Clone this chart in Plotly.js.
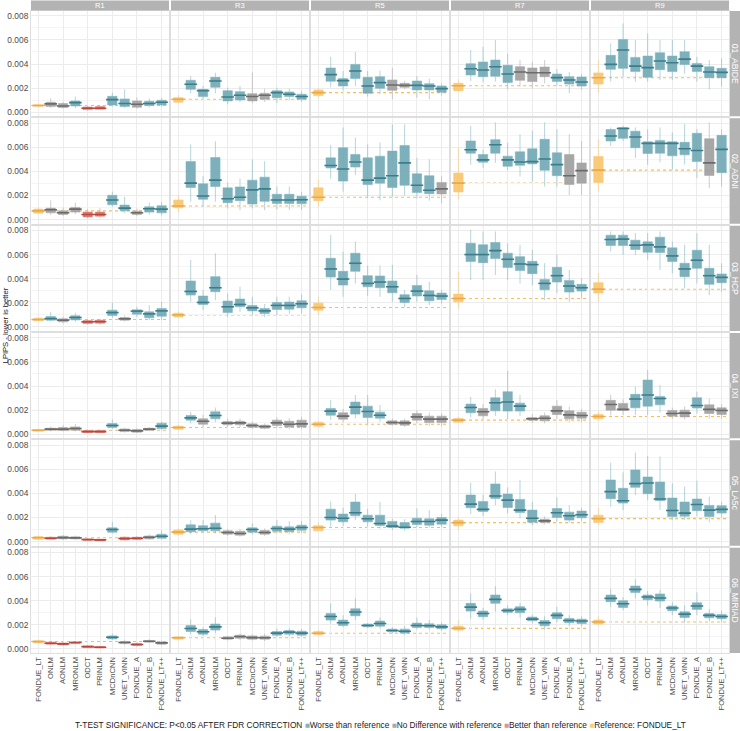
<!DOCTYPE html>
<html>
<head>
<meta charset="utf-8">
<script src="https://cdn.plot.ly/plotly-3.0.1.min.js"></script>
<style>
  html, body { margin: 0; padding: 0; background: #fff; }
  #chart { width: 740px; height: 731px; }
</style>
</head>
<body>
<div id="chart"></div>
<script>
// Methods compared in every panel (x axis), regions (columns) and datasets (rows)
const METHODS = ['FONDUE_LT','ONLM','AONLM','MRONLM','ODCT','PRINLM','MCDnCNN','UNET_VINN','FONDUE_A','FONDUE_B','FONDUE_LT++'];
const REGIONS = ['R1','R3','R5','R7','R9'];
const DATASETS = ['01_ABIDE','02_ADNI','03_HCP','04_IXI','05_LA5c','06_MIRIAD'];

// Box summaries per method: [lower whisker, q1, median, q3, upper whisker], LPIPS in units of 1e-3
// Significance per method: R = reference, W = worse, N = no difference, B = better
const ABIDE_R1 = [[0.45,0.50,0.56,0.62,0.72],[0.35,0.47,0.69,0.83,1.16],[0.30,0.39,0.52,0.72,0.85],[0.35,0.52,0.80,0.94,1.30],[0.15,0.22,0.33,0.44,0.55],[0.18,0.25,0.33,0.47,0.55],[0.47,0.61,1.05,1.32,1.63],[0.35,0.47,0.72,1.10,1.90],[0.30,0.41,0.66,0.94,1.24],[0.40,0.55,0.72,0.91,1.15],[0.45,0.61,0.83,0.99,1.20]];
const ABIDE_R1_SIG = 'RNNWBBWWNWW';
const ABIDE_R3 = [[0.75,0.83,1.08,1.21,1.40],[1.57,1.90,2.32,2.65,3.00],[1.10,1.30,1.79,1.88,2.18],[1.57,2.07,2.59,2.90,3.28],[0.66,0.94,1.27,1.79,2.04],[0.83,1.02,1.41,1.71,2.18],[0.75,0.94,1.30,1.54,3.30],[0.85,1.08,1.41,1.57,1.95],[0.75,1.21,1.63,1.79,2.04],[1.00,1.30,1.49,1.68,1.95],[0.85,1.08,1.30,1.49,1.75]];
const ABIDE_R3_SIG = 'RWWWWWNNWWW';
const ABIDE_R5 = [[1.20,1.38,1.63,1.85,2.00],[2.07,2.57,3.12,3.67,4.60],[1.80,2.18,2.62,2.79,3.42],[2.18,2.79,3.42,3.97,5.00],[1.30,1.57,2.18,2.90,3.42],[1.50,1.99,2.46,2.95,3.45],[1.08,1.82,2.26,2.68,3.67],[1.90,2.07,2.23,2.40,2.60],[1.20,1.85,2.23,2.59,3.00],[1.08,1.85,2.18,2.37,2.79],[1.40,1.66,1.96,2.18,2.40]];
const ABIDE_R5_SIG = 'RWWWWWNNWWW';
const ABIDE_R7 = [[1.72,1.79,2.20,2.40,2.73],[2.59,3.09,3.61,4.03,5.16],[2.46,2.95,3.50,4.17,5.43],[2.54,2.98,3.78,4.33,5.99],[1.90,2.46,3.17,3.89,4.88],[2.12,2.65,3.34,3.78,4.33],[1.99,2.54,3.28,3.67,4.19],[2.40,2.95,3.28,3.75,4.33],[2.20,2.54,2.87,3.17,3.60],[1.57,2.34,2.68,2.95,3.34],[1.85,2.18,2.51,2.92,3.17]];
const ABIDE_R7_SIG = 'RWWWWNNNWWW';
const ABIDE_R9 = [[1.63,2.34,2.86,3.26,4.33],[2.54,3.56,3.97,4.72,5.71],[2.95,3.64,5.16,6.04,7.37],[2.54,3.37,3.83,4.55,5.99],[2.54,2.90,3.70,4.66,6.54],[2.68,3.53,4.25,4.94,5.99],[2.68,3.37,4.11,4.66,5.99],[3.20,3.97,4.41,5.02,5.99],[2.54,3.37,3.83,4.05,4.60],[1.90,2.87,3.34,3.78,4.33],[2.12,2.87,3.31,3.64,4.47]];
const ABIDE_R9_SIG = 'RWWWWWWWWWW';

const ADNI_R1 = [[0.45,0.53,0.72,0.87,1.00],[0.40,0.56,0.81,0.95,1.60],[0.30,0.42,0.56,0.73,1.00],[0.45,0.62,0.87,1.01,1.40],[0.10,0.22,0.42,0.62,0.85],[0.15,0.28,0.42,0.62,0.95],[1.05,1.23,1.62,2.01,2.32],[0.55,0.73,0.95,1.20,1.90],[0.30,0.42,0.56,0.70,0.90],[0.40,0.62,0.90,1.06,1.40],[0.35,0.56,0.87,1.15,1.45]];
const ADNI_R1_SIG = 'RNNNBBWWNWW';
const ADNI_R3 = [[0.60,0.98,1.12,1.62,2.04],[1.48,2.66,3.02,4.81,6.24],[1.06,1.68,1.96,2.97,3.60],[1.48,2.74,3.27,5.15,6.49],[0.92,1.40,1.73,2.63,3.10],[0.78,1.57,1.85,2.71,3.40],[0.92,1.29,2.46,3.27,4.98],[0.78,1.51,2.55,3.52,4.84],[0.85,1.34,1.62,2.10,2.75],[0.80,1.34,1.62,2.10,2.75],[0.80,1.31,1.65,1.93,2.30]];
const ADNI_R3_SIG = 'RWWWWWWWWWW';
const ADNI_R5 = [[1.06,1.57,1.85,2.63,3.30],[3.40,4.28,4.48,5.12,6.20],[2.32,3.19,4.20,5.96,7.64],[3.70,4.36,4.78,5.40,6.80],[1.76,2.91,3.27,5.12,6.24],[1.60,3.02,3.44,5.26,6.40],[1.90,2.66,3.64,5.68,7.90],[2.00,2.85,4.70,6.15,7.90],[1.76,2.24,2.85,3.80,5.12],[1.57,2.15,2.43,3.64,5.00],[1.34,2.13,2.55,3.08,3.60]];
const ADNI_R5_SIG = 'RWWWWWWWWWN';
const ADNI_R7 = [[1.68,2.29,3.02,3.86,5.96],[4.56,5.51,5.79,6.52,7.78],[4.30,4.76,4.95,5.40,5.80],[4.70,5.51,6.21,6.63,8.06],[4.09,4.42,4.95,5.26,6.38],[3.58,4.50,4.78,5.62,7.08],[3.16,4.62,4.81,5.87,7.36],[2.74,4.09,5.03,6.66,8.06],[2.74,3.64,4.56,5.54,7.50],[2.04,2.91,3.64,5.40,7.08],[2.04,3.02,4.06,4.70,6.52]];
const ADNI_R7_SIG = 'RWWWWWWWWNN';
const ADNI_R9 = [[2.32,3.08,4.10,5.23,6.66],[6.10,6.52,6.94,7.47,7.64],[6.52,6.74,7.55,7.64,7.78],[5.12,5.96,6.85,7.33,7.64],[4.56,5.48,6.32,6.46,7.50],[4.76,5.51,6.32,6.57,7.64],[4.14,5.29,6.32,6.46,7.22],[4.56,5.37,5.87,6.41,7.92],[3.44,4.81,5.73,7.16,7.50],[2.60,3.66,4.70,6.71,8.06],[2.74,3.89,5.82,6.99,7.50]];
const ADNI_R9_SIG = 'RWWWWWWWWNW';

const HCP_R1 = [[0.45,0.53,0.61,0.72,0.80],[0.45,0.56,0.69,0.86,1.25],[0.30,0.42,0.56,0.67,0.85],[0.42,0.58,0.78,0.92,1.17],[0.20,0.28,0.42,0.53,0.65],[0.20,0.31,0.44,0.56,0.65],[0.75,0.94,1.19,1.39,2.00],[0.45,0.56,0.67,0.78,0.95],[0.83,1.06,1.31,1.42,1.67],[0.56,0.75,1.08,1.25,1.80],[0.56,0.89,1.33,1.53,2.08]];
const HCP_R1_SIG = 'RWNWBBWNWWW';
const HCP_R3 = [[0.75,0.83,1.00,1.14,1.30],[2.08,2.64,2.94,3.81,5.56],[1.39,1.86,2.03,2.56,3.06],[2.22,2.92,3.25,4.17,6.10],[0.83,1.19,1.67,2.14,2.78],[1.25,1.67,1.86,2.31,3.33],[0.97,1.33,1.58,1.78,2.50],[0.80,1.11,1.33,1.53,1.90],[0.97,1.44,1.78,2.03,2.50],[1.10,1.47,1.78,2.06,2.50],[1.10,1.58,1.92,2.17,2.70]];
const HCP_R3_SIG = 'RWWWWWWWWWW';
const HCP_R5 = [[1.00,1.39,1.61,1.97,2.50],[3.06,4.14,4.81,5.69,7.64],[2.50,3.47,3.97,4.61,6.25],[3.60,4.61,5.28,6.11,7.10],[2.58,3.33,3.61,4.25,5.10],[2.50,3.25,3.72,4.22,5.10],[2.08,2.83,3.33,3.81,5.14],[1.61,2.03,2.36,2.67,3.06],[2.08,2.56,2.97,3.44,4.31],[1.80,2.17,2.61,3.00,3.75],[1.94,2.28,2.56,2.81,3.10]];
const HCP_R5_SIG = 'RWWWWWWWWWW';
const HCP_R7 = [[1.53,2.08,2.36,2.72,4.58],[3.89,5.42,6.00,6.94,8.06],[3.89,5.33,6.00,6.81,7.92],[4.31,5.67,6.33,7.00,7.92],[3.89,4.92,5.61,6.11,6.94],[3.61,4.67,5.22,5.83,6.81],[3.47,4.42,5.17,5.44,6.39],[2.22,3.08,3.61,3.94,5.28],[2.83,3.72,4.25,4.94,6.00],[2.08,2.89,3.39,3.86,4.72],[2.36,2.97,3.25,3.53,4.03]];
const HCP_R7_SIG = 'RWWWWWWWWWW';
const HCP_R9 = [[2.08,2.81,3.13,3.67,4.44],[6.25,6.75,7.25,7.61,7.92],[5.97,6.75,7.28,7.61,7.92],[5.97,6.42,6.78,7.19,7.78],[5.56,6.19,6.81,7.06,7.78],[4.72,6.17,6.64,7.44,7.92],[4.44,5.42,5.89,6.56,7.08],[3.19,4.17,4.81,5.28,6.81],[3.61,4.86,5.53,6.36,7.78],[2.64,3.53,4.25,4.86,6.81],[2.92,3.67,4.11,4.39,5.28]];
const HCP_R9_SIG = 'RWWWWWWWWWW';

const IXI_R1 = [[0.22,0.25,0.33,0.39,0.45],[0.25,0.33,0.42,0.50,0.65],[0.22,0.31,0.42,0.56,0.75],[0.25,0.33,0.47,0.61,0.85],[0.08,0.14,0.22,0.31,0.38],[0.08,0.14,0.22,0.31,0.38],[0.44,0.56,0.72,0.89,1.22],[0.14,0.22,0.33,0.44,0.55],[0.10,0.17,0.28,0.39,0.50],[0.25,0.33,0.42,0.50,0.60],[0.33,0.47,0.67,0.92,1.05]];
const IXI_R1_SIG = 'RNNNBBWNNNW';
const IXI_R3 = [[0.33,0.42,0.56,0.67,0.78],[0.89,1.17,1.36,1.56,1.86],[0.60,0.83,1.08,1.28,1.60],[1.00,1.28,1.56,1.86,2.22],[0.60,0.78,0.92,1.06,1.30],[0.60,0.78,0.94,1.08,1.30],[0.45,0.58,0.72,0.86,1.05],[0.40,0.50,0.64,0.75,0.90],[0.50,0.72,0.94,1.17,1.40],[0.42,0.61,0.83,1.08,1.35],[0.42,0.61,0.86,1.17,1.45]];
const IXI_R3_SIG = 'RWNWNNNNNNN';
const IXI_R5 = [[0.55,0.67,0.83,1.00,1.10],[1.17,1.58,1.92,2.14,2.83],[1.00,1.25,1.50,1.78,2.10],[1.31,1.67,2.25,2.67,3.25],[0.75,1.39,1.89,2.33,3.25],[1.03,1.33,1.58,1.83,2.42],[0.70,0.83,0.97,1.11,1.30],[0.60,0.75,0.94,1.11,1.30],[0.90,1.17,1.44,1.72,2.00],[0.70,0.97,1.25,1.50,1.80],[0.65,0.97,1.25,1.50,1.75]];
const IXI_R5_SIG = 'RWNWWWNNNNN';
const IXI_R7 = [[0.95,1.00,1.17,1.31,1.45],[1.39,1.78,2.22,2.50,3.11],[1.20,1.53,1.86,2.14,2.50],[1.50,1.94,2.61,3.03,3.72],[1.25,1.92,2.67,3.53,5.28],[1.50,1.92,2.33,2.58,3.25],[0.95,1.17,1.28,1.39,1.65],[0.90,1.11,1.33,1.53,1.80],[1.25,1.64,1.94,2.33,2.83],[1.00,1.28,1.61,1.94,2.30],[1.00,1.33,1.56,1.83,2.10]];
const IXI_R7_SIG = 'RWNWWWNNNNN';
const IXI_R9 = [[1.10,1.28,1.47,1.64,1.90],[1.55,2.00,2.47,2.81,3.28],[1.60,1.97,2.06,2.56,2.90],[1.58,2.19,2.92,3.31,3.94],[1.58,2.33,3.25,4.50,5.33],[1.80,2.44,2.97,3.14,4.08],[1.30,1.50,1.72,1.97,2.20],[1.20,1.44,1.75,2.00,2.30],[1.72,2.17,2.39,3.03,3.53],[1.30,1.72,2.06,2.44,2.97],[1.30,1.64,1.97,2.19,2.50]];
const IXI_R9_SIG = 'RNNWWWNNWNN';

const LA5C_R1 = [[0.12,0.19,0.32,0.42,0.50],[0.12,0.19,0.28,0.36,0.45],[0.15,0.22,0.33,0.44,0.55],[0.15,0.22,0.31,0.39,0.50],[0.03,0.08,0.17,0.22,0.30],[0.02,0.06,0.14,0.19,0.25],[0.67,0.78,1.00,1.14,1.64],[0.08,0.14,0.25,0.36,0.45],[0.10,0.17,0.28,0.36,0.45],[0.14,0.22,0.36,0.47,0.60],[0.17,0.28,0.44,0.61,0.95]];
const LA5C_R1_SIG = 'RBNNBBWBBNW';
const LA5C_R3 = [[0.50,0.61,0.78,0.97,1.10],[0.60,0.81,1.03,1.39,1.78],[0.70,0.89,1.06,1.31,1.80],[0.67,0.89,1.11,1.53,2.20],[0.45,0.61,0.75,0.89,1.05],[0.40,0.53,0.67,0.86,1.05],[0.60,0.78,1.00,1.14,1.50],[0.45,0.61,0.75,0.92,1.10],[0.67,0.86,1.08,1.28,1.78],[0.60,0.83,1.03,1.22,1.70],[0.70,0.94,1.17,1.36,1.70]];
const LA5C_R3_SIG = 'RWWWNNWNWWW';
const LA5C_R5 = [[0.85,0.89,1.17,1.31,1.60],[1.22,1.78,2.00,2.69,3.33],[1.30,1.64,1.94,2.28,2.80],[1.78,2.14,2.39,3.28,3.97],[1.22,1.64,1.89,2.19,2.72],[1.08,1.33,1.50,2.19,3.31],[0.95,1.17,1.28,1.67,1.90],[0.90,1.11,1.19,1.58,1.85],[1.17,1.42,1.67,1.94,2.75],[1.17,1.36,1.67,1.89,2.61],[1.20,1.44,1.78,2.00,2.30]];
const LA5C_R5_SIG = 'RWWWWWWWWWW';
const LA5C_R7 = [[1.00,1.31,1.57,1.78,2.00],[2.28,2.81,3.11,3.86,4.89],[2.10,2.50,2.67,3.33,3.90],[3.00,3.58,3.78,4.78,5.81],[2.33,2.83,3.44,3.94,4.50],[1.92,2.42,2.61,3.50,5.11],[1.36,1.61,1.94,2.61,3.31],[1.40,1.58,1.72,1.86,2.10],[1.64,2.00,2.39,2.75,3.67],[1.56,1.78,2.14,2.44,3.00],[1.70,1.97,2.22,2.53,2.80]];
const LA5C_R7_SIG = 'RWWWWWWNWWW';
const LA5C_R9 = [[1.40,1.58,1.90,2.19,2.80],[2.89,3.56,4.14,5.11,6.56],[2.61,3.19,3.39,4.42,5.75],[3.86,4.50,4.81,5.94,7.39],[3.44,3.97,4.86,5.36,7.11],[2.61,3.39,3.53,4.94,7.06],[1.78,2.08,2.58,3.61,4.83],[1.78,2.11,2.36,3.28,4.56],[2.11,2.56,3.08,3.53,5.06],[1.60,2.08,2.61,3.00,3.72],[2.00,2.36,2.67,2.97,3.30]];
const LA5C_R9_SIG = 'RWWWWWWWWWW';

const MIRIAD_R1 = [[0.45,0.50,0.62,0.67,0.75],[0.30,0.39,0.47,0.56,0.65],[0.25,0.33,0.42,0.50,0.60],[0.38,0.44,0.53,0.58,0.65],[0.06,0.11,0.19,0.25,0.30],[0.04,0.08,0.14,0.19,0.25],[0.75,0.83,0.97,1.08,1.25],[0.35,0.44,0.53,0.61,0.75],[0.20,0.28,0.36,0.44,0.55],[0.50,0.56,0.64,0.69,0.80],[0.30,0.39,0.50,0.58,0.70]];
const MIRIAD_R1_SIG = 'RBBBBBWNBNN';
const MIRIAD_R3 = [[0.70,0.81,0.92,1.00,1.10],[1.20,1.44,1.69,1.94,2.44],[1.05,1.22,1.42,1.61,1.80],[1.33,1.56,1.83,2.06,2.61],[0.70,0.81,0.89,1.00,1.10],[0.75,0.89,1.03,1.14,1.25],[0.70,0.81,0.94,1.08,1.20],[0.65,0.81,0.92,1.06,1.25],[1.00,1.14,1.31,1.44,1.70],[1.05,1.22,1.39,1.53,1.70],[1.00,1.14,1.31,1.47,1.65]];
const MIRIAD_R3_SIG = 'RWWWNNNNWWW';
const MIRIAD_R5 = [[1.05,1.17,1.30,1.44,1.60],[2.10,2.39,2.69,2.94,3.78],[1.80,1.94,2.17,2.39,2.78],[2.40,2.75,3.06,3.33,4.19],[1.75,1.83,1.94,2.06,2.15],[1.70,1.89,2.11,2.31,2.60],[1.30,1.42,1.53,1.64,1.80],[1.15,1.31,1.47,1.64,1.90],[1.60,1.78,1.94,2.14,2.60],[1.60,1.78,1.92,2.08,2.40],[1.50,1.67,1.83,2.00,2.20]];
const MIRIAD_R5_SIG = 'RWWWWWWWWWW';
const MIRIAD_R7 = [[1.40,1.56,1.70,1.89,2.40],[2.50,3.14,3.47,3.78,4.60],[2.40,2.67,2.94,3.14,3.40],[3.10,3.78,4.11,4.47,5.20],[2.80,3.03,3.19,3.33,3.60],[2.60,3.00,3.28,3.50,3.80],[2.10,2.33,2.47,2.64,2.85],[1.60,1.92,2.17,2.36,2.70],[2.20,2.50,2.78,3.00,3.50],[1.90,2.17,2.36,2.53,2.80],[1.85,2.11,2.31,2.47,2.70]];
const MIRIAD_R7_SIG = 'RWWWWWWWWWW';
const MIRIAD_R9 = [[1.90,2.06,2.23,2.39,2.70],[3.50,3.92,4.19,4.47,5.00],[3.20,3.44,3.75,4.00,4.30],[4.20,4.67,4.94,5.22,5.78],[3.60,4.08,4.31,4.47,4.80],[3.40,3.97,4.22,4.56,4.90],[2.80,3.17,3.39,3.56,3.90],[2.20,2.61,2.89,3.08,3.60],[2.80,3.28,3.56,3.83,4.70],[2.30,2.58,2.78,2.94,3.30],[2.20,2.50,2.69,2.86,3.20]];
const MIRIAD_R9_SIG = 'RWWWWWWWWWW';

const UNIT = 1e-3;

// Lookup: dataset -> region -> [summaries, significance]
const PANELS = {
  '01_ABIDE':  {R1:[ABIDE_R1,ABIDE_R1_SIG], R3:[ABIDE_R3,ABIDE_R3_SIG], R5:[ABIDE_R5,ABIDE_R5_SIG], R7:[ABIDE_R7,ABIDE_R7_SIG], R9:[ABIDE_R9,ABIDE_R9_SIG]},
  '02_ADNI':   {R1:[ADNI_R1,ADNI_R1_SIG], R3:[ADNI_R3,ADNI_R3_SIG], R5:[ADNI_R5,ADNI_R5_SIG], R7:[ADNI_R7,ADNI_R7_SIG], R9:[ADNI_R9,ADNI_R9_SIG]},
  '03_HCP':    {R1:[HCP_R1,HCP_R1_SIG], R3:[HCP_R3,HCP_R3_SIG], R5:[HCP_R5,HCP_R5_SIG], R7:[HCP_R7,HCP_R7_SIG], R9:[HCP_R9,HCP_R9_SIG]},
  '04_IXI':    {R1:[IXI_R1,IXI_R1_SIG], R3:[IXI_R3,IXI_R3_SIG], R5:[IXI_R5,IXI_R5_SIG], R7:[IXI_R7,IXI_R7_SIG], R9:[IXI_R9,IXI_R9_SIG]},
  '05_LA5c':   {R1:[LA5C_R1,LA5C_R1_SIG], R3:[LA5C_R3,LA5C_R3_SIG], R5:[LA5C_R5,LA5C_R5_SIG], R7:[LA5C_R7,LA5C_R7_SIG], R9:[LA5C_R9,LA5C_R9_SIG]},
  '06_MIRIAD': {R1:[MIRIAD_R1,MIRIAD_R1_SIG], R3:[MIRIAD_R3,MIRIAD_R3_SIG], R5:[MIRIAD_R5,MIRIAD_R5_SIG], R7:[MIRIAD_R7,MIRIAD_R7_SIG], R9:[MIRIAD_R9,MIRIAD_R9_SIG]}
};

// Styling for each significance class
const SIG_STYLE = {
  W: {label:'Worse than reference',          fill:'rgba(108,165,178,0.88)', line:'rgba(120,178,190,0.55)', median:'#3b7d8b', key:'#7fb3be'},
  N: {label:'No Difference with reference',  fill:'rgba(155,155,155,0.88)', line:'rgba(165,165,165,0.55)', median:'#6b6b6b', key:'#a9a9a9'},
  B: {label:'Better than reference',         fill:'rgba(214,108,98,0.9)',   line:'rgba(222,130,120,0.55)', median:'#b9473d', key:'#e0948c'},
  R: {label:'Reference: FONDUE_LT',          fill:'rgba(248,196,104,0.9)',  line:'rgba(248,200,120,0.6)',  median:'#eba94a', key:'#f8cf82'}
};
const SIG_ORDER = ['W','N','B','R'];

// Plot-area geometry (pixels), used for the facet grid
const W = 740, H = 731;
const M = {l: 31, r: 11, t: 11, b: 78};
const PW = W - M.l - M.r, PH = H - M.t - M.b;
const GAP = 2;
const COLW = (PW - GAP * (REGIONS.length - 1)) / REGIONS.length;
const ROWH = (PH - GAP * (DATASETS.length - 1)) / DATASETS.length;

const FONT = 'Liberation Sans, Arial, Helvetica, sans-serif';
const traces = [];
const layout = {
  width: W, height: H,
  margin: M,
  paper_bgcolor: '#ffffff',
  plot_bgcolor: '#ffffff',
  showlegend: false,
  boxmode: 'overlay',
  font: {family: FONT, color: '#1a1a1a'},
  shapes: [],
  annotations: []
};

DATASETS.forEach((ds, r) => {
  REGIONS.forEach((reg, c) => {
    const idx = r * REGIONS.length + c + 1;
    const xa = idx === 1 ? 'x' : 'x' + idx;
    const ya = idx === 1 ? 'y' : 'y' + idx;
    const x0 = c * (COLW + GAP) / PW, x1 = x0 + COLW / PW;
    const y1 = 1 - r * (ROWH + GAP) / PH, y0 = y1 - ROWH / PH;

    layout['xaxis' + (idx === 1 ? '' : idx)] = {
      domain: [x0, x1], anchor: ya, type: 'category',
      categoryorder: 'array', categoryarray: METHODS,
      range: [-0.6, METHODS.length - 0.4],
      showgrid: true, gridcolor: '#ececec', gridwidth: 1,
      showline: true, mirror: true, linecolor: '#dedede', linewidth: 1,
      zeroline: false, ticks: '',
      showticklabels: r === DATASETS.length - 1,
      tickangle: -90,
      tickfont: {family: FONT, size: 7.6, color: '#4d4d4d'},
      fixedrange: true
    };
    layout['yaxis' + (idx === 1 ? '' : idx)] = {
      domain: [y0, y1], anchor: xa,
      range: [-0.00034, 0.0084],
      tick0: 0, dtick: 0.002, tickformat: '.3f',
      showgrid: true, gridcolor: '#ececec', gridwidth: 1,
      minor: {dtick: 0.001, showgrid: true, gridcolor: '#f5f5f5', gridwidth: 1},
      showline: true, mirror: true, linecolor: '#dedede', linewidth: 1,
      zeroline: false, ticks: '',
      showticklabels: c === 0,
      tickfont: {family: FONT, size: 8.4, color: '#4d4d4d'},
      fixedrange: true
    };

    const [stats, sig] = PANELS[ds][reg];

    // Boxes, one trace per significance class present in the panel
    SIG_ORDER.forEach(code => {
      const ids = METHODS.map((m, i) => i).filter(i => sig[i] === code);
      if (!ids.length) return;
      const st = SIG_STYLE[code];
      traces.push({
        type: 'box', xaxis: xa, yaxis: ya,
        x: ids.map(i => METHODS[i]),
        lowerfence: ids.map(i => stats[i][0] * UNIT),
        q1:         ids.map(i => stats[i][1] * UNIT),
        median:     ids.map(i => stats[i][2] * UNIT),
        q3:         ids.map(i => stats[i][3] * UNIT),
        upperfence: ids.map(i => stats[i][4] * UNIT),
        fillcolor: st.fill,
        line: {color: st.line, width: 1},
        whiskerwidth: 0, width: 0.76,
        boxpoints: false, hoverinfo: 'skip', showlegend: false
      });
    });

    // Median bars drawn on top of the boxes
    traces.push({
      type: 'scatter', mode: 'markers', xaxis: xa, yaxis: ya,
      x: METHODS,
      y: stats.map(s => s[2] * UNIT),
      marker: {
        symbol: 'line-ew', size: 9,
        line: {width: 1.6, color: METHODS.map((m, i) => SIG_STYLE[sig[i]].median)}
      },
      hoverinfo: 'skip', showlegend: false
    });

    // Dotted guide at the reference method's median
    const refIdx = sig.indexOf('R');
    layout.shapes.push({
      type: 'line', layer: 'below',
      xref: xa + ' domain', yref: ya,
      x0: 0, x1: 1,
      y0: stats[refIdx][2] * UNIT, y1: stats[refIdx][2] * UNIT,
      line: {color: '#f6bf5e', width: 1.1, dash: 'dot'}
    });

    // Column strip (region) on the top row
    if (r === 0) {
      layout.shapes.push({
        type: 'rect', xref: 'paper', yref: 'paper',
        x0: x0, x1: x1, y0: 1 + 0.6 / PH, y1: 1 + 10.5 / PH,
        fillcolor: '#b3b3b3', line: {width: 0}
      });
      layout.annotations.push({
        xref: 'paper', yref: 'paper', x: (x0 + x1) / 2, y: 1 + 5.6 / PH,
        text: reg, showarrow: false, xanchor: 'center', yanchor: 'middle',
        font: {family: FONT, size: 7.5, color: '#ffffff'}
      });
    }
    // Row strip (dataset) on the right column
    if (c === REGIONS.length - 1) {
      layout.shapes.push({
        type: 'rect', xref: 'paper', yref: 'paper',
        x0: 1 + 1 / PW, x1: 1 + 11 / PW, y0: y0, y1: y1,
        fillcolor: '#b3b3b3', line: {width: 0}
      });
      layout.annotations.push({
        xref: 'paper', yref: 'paper', x: 1 + 6 / PW, y: (y0 + y1) / 2,
        text: ds, showarrow: false, textangle: 90,
        xanchor: 'center', yanchor: 'middle',
        font: {family: FONT, size: 8.6, color: '#ffffff'}
      });
    }
  });
});

// Shared y-axis title carried by a thin full-height axis on the left edge
const NT = DATASETS.length * REGIONS.length + 1;
layout['xaxis' + NT] = {domain: [0, 0.0004], anchor: 'y' + NT, visible: false, fixedrange: true};
layout['yaxis' + NT] = {
  domain: [0.02, 1], anchor: 'x' + NT, range: [0, 1],
  showgrid: false, zeroline: false, showline: false, showticklabels: false, ticks: '',
  title: {text: 'LPIPS - lower is better', standoff: 19.5, font: {family: FONT, size: 7.6, color: '#1a1a1a'}},
  fixedrange: true
};
traces.push({type: 'scatter', mode: 'markers', x: [], y: [], xaxis: 'x' + NT, yaxis: 'y' + NT, hoverinfo: 'skip', showlegend: false});

// Legend line at the bottom
const legendText = 'T-TEST SIGNIFICANCE: P&lt;0.05 AFTER FDR CORRECTION ' +
  SIG_ORDER.map(code => '<span style="color:' + SIG_STYLE[code].key + '">■</span>' + SIG_STYLE[code].label).join(' ');
layout.annotations.push({
  xref: 'paper', yref: 'paper', x: 0.5, y: -72 / PH,
  text: legendText, showarrow: false,
  xanchor: 'center', yanchor: 'middle',
  font: {family: FONT, size: 8.3, color: '#1a1a1a'}
});

Plotly.newPlot('chart', traces, layout, {staticPlot: true, displayModeBar: false});
</script>
</body>
</html>
